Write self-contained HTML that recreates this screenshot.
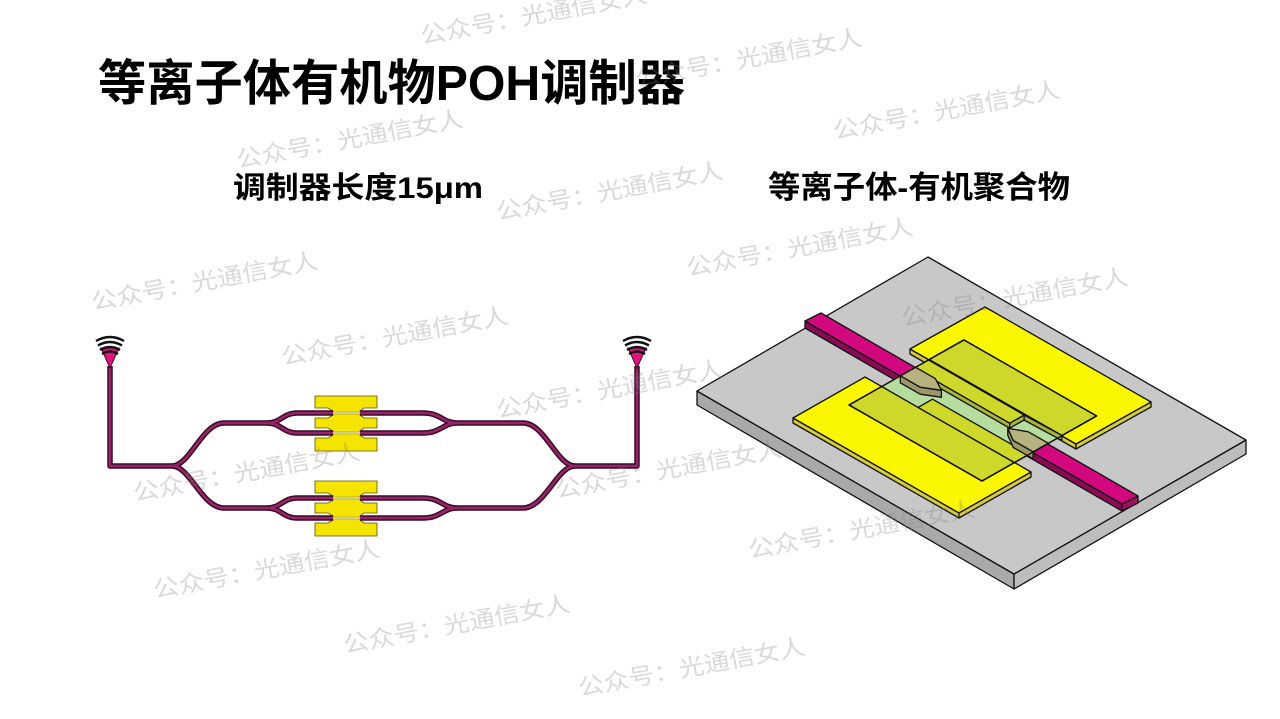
<!DOCTYPE html>
<html><head><meta charset="utf-8"><style>
html,body{margin:0;padding:0;background:#fff;}
svg{display:block;}
</style></head><body>
<svg width="1280" height="719" viewBox="0 0 1280 719" xmlns="http://www.w3.org/2000/svg">
<rect width="1280" height="719" fill="#fff"/>

<!-- Titles -->
<text x="98" y="100" font-family="Liberation Sans, Noto Sans CJK SC, sans-serif" font-weight="700" font-size="49" textLength="587" lengthAdjust="spacingAndGlyphs" fill="#000">等离子体有机物POH调制器</text>
<text x="233" y="198" font-family="Liberation Sans, Noto Sans CJK SC, sans-serif" font-weight="700" font-size="30" textLength="250" lengthAdjust="spacingAndGlyphs" fill="#000">调制器长度15μm</text>
<text x="768" y="198" font-family="Liberation Sans, Noto Sans CJK SC, sans-serif" font-weight="700" font-size="31" textLength="302" lengthAdjust="spacingAndGlyphs" fill="#000">等离子体-有机聚合物</text>

<!-- ===== Left MZI diagram ===== -->
<g fill="#f4e400" stroke="#5a5200" stroke-width="0.8" stroke-linejoin="miter">
<polygon points="315,396 377,396 377,408 364,408 360,411 360,415 364,418 377,418 377,428 364,428 360,431 360,435 364,438 377,438 377,451 315,451 315,438 328,438 333,435 333,431 328,428 315,428 315,418 328,418 333,415 333,411 328,408 315,408"/>
<polygon points="315,481 377,481 377,493 364,493 360,496 360,500 364,503 377,503 377,513 364,513 360,516 360,520 364,523 377,523 377,536 315,536 315,523 328,523 333,520 333,516 328,513 315,513 315,503 328,503 333,500 333,496 328,493 315,493"/>
</g>
<g stroke="#8a8440" stroke-width="2.6" fill="none">
<path d="M333,413 L360,413 M333,433 L360,433 M333,498 L360,498 M333,518 L360,518"/>
</g>
<g stroke="#fbf8d0" stroke-width="1.2" fill="none">
<path d="M333,413 L360,413 M333,433 L360,433 M333,498 L360,498 M333,518 L360,518"/>
</g>

<g fill="none" stroke-linejoin="round">
<g stroke="#3a0a26" stroke-width="5.5">
<path d="M110,366 L110,466 L172,466"/>
<path d="M637,366 L637,466 L575,466"/>
<path d="M172,466 C190,466 202,423 224,423 L267,423"/>
<path d="M575,466 C557,466 545,423 523,423 L457,423"/>
<path d="M267,423 C281,423 283,413 297,413 L333,413"/>
<path d="M267,423 C281,423 283,433 297,433 L333,433"/>
<path d="M360,413 L423,413 C441,413 443,423 457,423"/>
<path d="M360,433 L423,433 C441,433 443,423 457,423"/>
<path d="M172,466 C190,466 202,508 224,508 L267,508"/>
<path d="M575,466 C557,466 545,508 523,508 L457,508"/>
<path d="M267,508 C281,508 283,498 297,498 L333,498"/>
<path d="M267,508 C281,508 283,518 297,518 L333,518"/>
<path d="M360,498 L423,498 C441,498 443,508 457,508"/>
<path d="M360,518 L423,518 C441,518 443,508 457,508"/>
</g>
<g stroke="#962468" stroke-width="2.6">
<path d="M110,366 L110,466 L172,466"/>
<path d="M637,366 L637,466 L575,466"/>
<path d="M172,466 C190,466 202,423 224,423 L267,423"/>
<path d="M575,466 C557,466 545,423 523,423 L457,423"/>
<path d="M267,423 C281,423 283,413 297,413 L333,413"/>
<path d="M267,423 C281,423 283,433 297,433 L333,433"/>
<path d="M360,413 L423,413 C441,413 443,423 457,423"/>
<path d="M360,433 L423,433 C441,433 443,423 457,423"/>
<path d="M172,466 C190,466 202,508 224,508 L267,508"/>
<path d="M575,466 C557,466 545,508 523,508 L457,508"/>
<path d="M267,508 C281,508 283,498 297,498 L333,498"/>
<path d="M267,508 C281,508 283,518 297,518 L333,518"/>
<path d="M360,498 L423,498 C441,498 443,508 457,508"/>
<path d="M360,518 L423,518 C441,518 443,508 457,508"/>
</g>
</g>

<g>
<polygon points="101,348 119,348 110,368" fill="#e0157f" stroke="#3a0a26" stroke-width="1"/>
<g fill="none" stroke="#111" stroke-width="2.4">
<path d="M96,341 Q110,333 124,341"/>
<path d="M98,345.5 Q110,338.5 122,345.5"/>
<path d="M100,350 Q110,344 120,350"/>
<path d="M102,354 Q110,349 118,354"/>
</g>
<polygon points="628,348 646,348 637,368" fill="#e0157f" stroke="#3a0a26" stroke-width="1"/>
<g fill="none" stroke="#111" stroke-width="2.4">
<path d="M623,341 Q637,333 651,341"/>
<path d="M625,345.5 Q637,338.5 649,345.5"/>
<path d="M627,350 Q637,344 647,350"/>
<path d="M629,354 Q637,349 645,354"/>
</g>
</g>

<!-- ===== Right 3D diagram ===== -->
<g stroke="#111" stroke-width="1.3" stroke-linejoin="round">
<polygon points="697,391 1014,574 1014,589 697,405" fill="#a9a9a9"/>
<polygon points="1014,574 1246,440 1246,454 1014,589" fill="#bdbdbd"/>
<polygon points="928,257 1246,440 1014,574 697,391" fill="#c8c8c8"/>
<polygon points="805,321 1122,504 1122,511 805,328" fill="#8c0a55"/>
<polygon points="1122,504 1138,496 1138,503 1122,511" fill="#a0105f"/>
<polygon points="805,321 821,313 1138,496 1122,504" fill="#d4087e"/>
<polygon points="793,418 959,513 959,518 793,423" fill="#d6cc3c"/>
<polygon points="959,513 1031,472 1031,477 959,518" fill="#d6cc3c"/>
<polygon points="865,377 1031,472 959,513 793,418" fill="#fbf700"/>
<polygon points="910,349 1076,444 1076,449 910,354" fill="#d6cc3c"/>
<polygon points="1076,444 1151,402 1151,407 1076,449" fill="#d6cc3c"/>
<polygon points="985,307 1151,402 1076,444 910,349" fill="#fbf700"/>
<polygon points="849,405 964,340 1096.5,416 982,481" fill="#b6dca0"/>
<polygon points="881.6,386.5 1014.4,462.5 982,481 849.2,405" fill="#cdd82a"/>
<polygon points="929.1,359.4 1061.9,435.4 1096.5,415.8 963.7,339.8" fill="#cdd82a"/>
<polygon points="1024,415 1061.9,435.4 1061.9,440.4 1024,420" fill="#a9b43a"/>
<polygon points="918.1,407.4 1014.4,462.5 1028.8,454.3 932.5,399.2" fill="#cdd82a"/>
<polygon points="914,368.2 1009.7,423.2 1009.7,428.2 914,373.2" fill="#a9b43a"/>
<polygon points="1009.7,423.2 1024.1,415 1024.1,420 1009.7,428.2" fill="#a9b43a"/>
<polygon points="928.4,359.9 1024.1,415 1009.7,423.2 914,368.2" fill="#cdd82a"/>
<polygon points="900.3,375.8 915.4,367.2 925.4,372.9 910.3,381.5" fill="#d9b4a2" stroke-width="0.8"/>
<polygon points="1023.1,446 1038.2,437.5 1048.2,443.2 1033.1,451.8" fill="#d9b4a2" stroke-width="0.8"/>
<polygon points="900.3,375.8 920.2,387.2 941.4,390.3 941.4,397.3 920.2,394.2 900.3,382.8" fill="#9c976a"/>
<polygon points="915.4,367.2 935.3,378.6 941.4,390.3 920.2,387.2 900.3,375.8" fill="#b8b37e"/>
<polygon points="1007.8,428.3 1013.2,440.4 1033.1,451.8 1033.1,458.8 1013.2,447.4 1007.8,435.3" fill="#9c976a"/>
<polygon points="1007.8,428.3 1028.3,431.8 1048.2,443.2 1033.1,451.8 1013.2,440.4" fill="#b8b37e"/>
<polygon points="849,405 964,340 1096.5,416 982,481" fill="none"/>
</g>

<!-- ===== Watermarks ===== -->
<g font-family="Liberation Sans, Noto Sans CJK SC, sans-serif" font-size="23" fill="#808080" fill-opacity="0.3">
<text x="422" y="44" textLength="230" lengthAdjust="spacingAndGlyphs" transform="rotate(-10.5 422 44)">公众号：光通信女人</text>
<text x="637" y="87" textLength="230" lengthAdjust="spacingAndGlyphs" transform="rotate(-10.5 637 87)">公众号：光通信女人</text>
<text x="835" y="139" textLength="230" lengthAdjust="spacingAndGlyphs" transform="rotate(-10.5 835 139)">公众号：光通信女人</text>
<text x="238" y="168" textLength="230" lengthAdjust="spacingAndGlyphs" transform="rotate(-10.5 238 168)">公众号：光通信女人</text>
<text x="498" y="220" textLength="230" lengthAdjust="spacingAndGlyphs" transform="rotate(-10.5 498 220)">公众号：光通信女人</text>
<text x="688" y="276" textLength="230" lengthAdjust="spacingAndGlyphs" transform="rotate(-10.5 688 276)">公众号：光通信女人</text>
<text x="93" y="310" textLength="230" lengthAdjust="spacingAndGlyphs" transform="rotate(-10.5 93 310)">公众号：光通信女人</text>
<text x="903" y="326" textLength="230" lengthAdjust="spacingAndGlyphs" transform="rotate(-10.5 903 326)">公众号：光通信女人</text>
<text x="283" y="365" textLength="230" lengthAdjust="spacingAndGlyphs" transform="rotate(-10.5 283 365)">公众号：光通信女人</text>
<text x="498" y="418" textLength="230" lengthAdjust="spacingAndGlyphs" transform="rotate(-10.5 498 418)">公众号：光通信女人</text>
<text x="135" y="501" textLength="230" lengthAdjust="spacingAndGlyphs" transform="rotate(-10.5 135 501)">公众号：光通信女人</text>
<text x="557" y="498" textLength="230" lengthAdjust="spacingAndGlyphs" transform="rotate(-10.5 557 498)">公众号：光通信女人</text>
<text x="750" y="558" textLength="230" lengthAdjust="spacingAndGlyphs" transform="rotate(-10.5 750 558)">公众号：光通信女人</text>
<text x="155" y="598" textLength="230" lengthAdjust="spacingAndGlyphs" transform="rotate(-10.5 155 598)">公众号：光通信女人</text>
<text x="345" y="653" textLength="230" lengthAdjust="spacingAndGlyphs" transform="rotate(-10.5 345 653)">公众号：光通信女人</text>
<text x="580" y="696" textLength="230" lengthAdjust="spacingAndGlyphs" transform="rotate(-10.5 580 696)">公众号：光通信女人</text>
</g>
</svg>
</body></html>
